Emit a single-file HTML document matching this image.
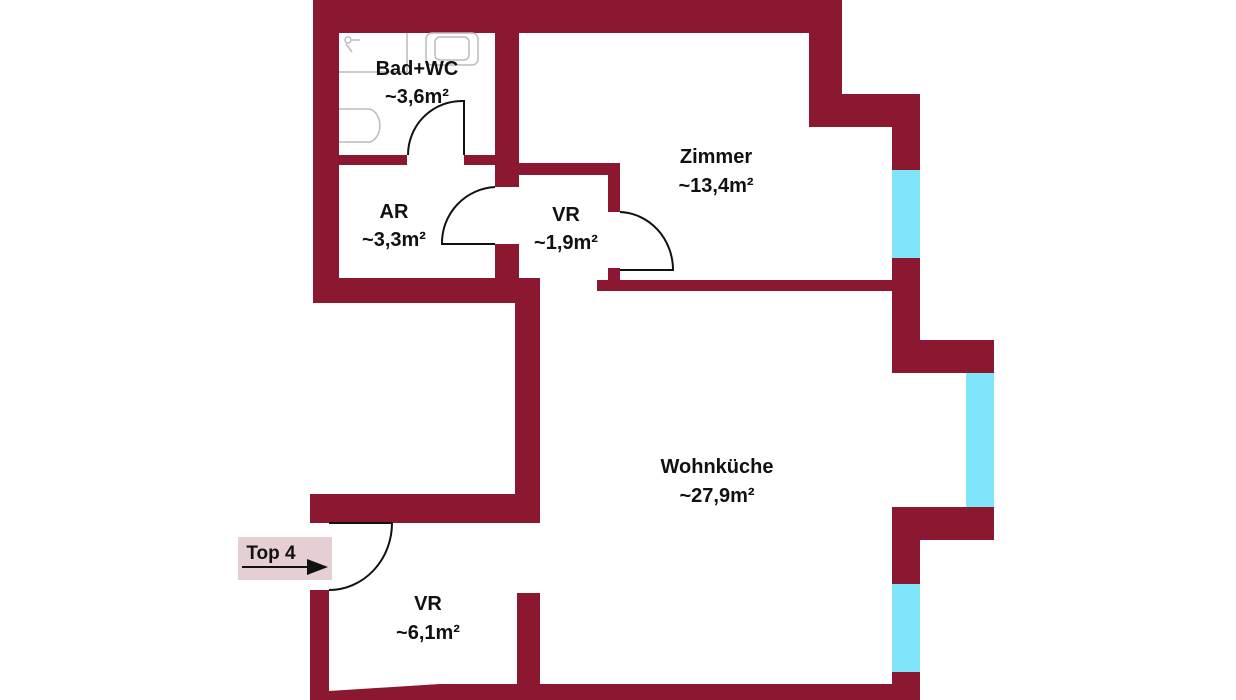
<!DOCTYPE html>
<html><head><meta charset="utf-8"><style>
html,body{margin:0;padding:0;background:#fff;}
svg{display:block}
text{font-family:"Liberation Sans",sans-serif;font-weight:bold;font-size:20px;fill:#111;text-anchor:middle}
</style></head><body>
<svg width="1236" height="700" viewBox="0 0 1236 700" xmlns="http://www.w3.org/2000/svg">
<g fill="#8b1730">
<rect x="313" y="0" width="529" height="33"/>
<rect x="809" y="0" width="33" height="127"/>
<rect x="809" y="94" width="111" height="33"/>
<rect x="892" y="94" width="28" height="76"/>
<rect x="892" y="258" width="28" height="110"/>
<rect x="892" y="340" width="102" height="33"/>
<rect x="966" y="340" width="28" height="33"/>
<rect x="892" y="507" width="102" height="33"/>
<rect x="892" y="507" width="28" height="77"/>
<rect x="892" y="672" width="28" height="28"/>
<rect x="597" y="280" width="295" height="11"/>
<rect x="313" y="0" width="26" height="303"/>
<rect x="313" y="278" width="227" height="25"/>
<rect x="515" y="278" width="25" height="245"/>
<rect x="310" y="494" width="230" height="29"/>
<rect x="339" y="155" width="68" height="10"/>
<rect x="464" y="155" width="31" height="10"/>
<rect x="495" y="33" width="24" height="154"/>
<rect x="495" y="244" width="24" height="36"/>
<rect x="519" y="163" width="101" height="12"/>
<rect x="608" y="163" width="12" height="49"/>
<rect x="608" y="268" width="12" height="14"/>
<rect x="310" y="590" width="19" height="110"/>
<rect x="517" y="593" width="23" height="107"/>
<polygon points="329,691 440,684 920,684 920,700 310,700 310,691"/>
</g>
<g fill="#80e5fb">
<rect x="892" y="170" width="28" height="88"/>
<rect x="966" y="373" width="28" height="134"/>
<rect x="892" y="584" width="28" height="88"/>
</g>
<g fill="none" stroke="#bbb" stroke-width="1.5">
<path d="M339 72 H407 V33"/>
<rect x="426" y="33" width="52" height="32" rx="6"/>
<rect x="435" y="37" width="34" height="23" rx="5"/>
<path d="M339 109 H370 A13 17 0 0 1 370 142 H339"/>
<circle cx="348" cy="40" r="3"/>
<path d="M346 44 L352 52 M352 40 H360"/>
</g>
<g fill="none" stroke="#111" stroke-width="2">
<path d="M464 155 V101 A54 54 0 0 0 408 155"/>
<path d="M495 187 A56 56 0 0 0 442 244 H495"/>
<path d="M620 212 A55 58 0 0 1 673 270 H620"/>
<path d="M329 523 H392 A63 67 0 0 1 329 590"/>
</g>
<rect x="238" y="537" width="94" height="43" fill="#e6cfd2"/>
<text x="271" y="559" style="font-size:19px">Top 4</text>
<line x1="242" y1="567" x2="312" y2="567" stroke="#111" stroke-width="2"/>
<polygon points="307,559 328,567 307,575" fill="#111"/>
<text x="417" y="75">Bad+WC</text>
<text x="417" y="103">~3,6m²</text>
<text x="394" y="218">AR</text>
<text x="394" y="246">~3,3m²</text>
<text x="566" y="221">VR</text>
<text x="566" y="249">~1,9m²</text>
<text x="716" y="163">Zimmer</text>
<text x="716" y="192">~13,4m²</text>
<text x="717" y="473">Wohnküche</text>
<text x="717" y="502">~27,9m²</text>
<text x="428" y="610">VR</text>
<text x="428" y="639">~6,1m²</text>
</svg>
</body></html>
